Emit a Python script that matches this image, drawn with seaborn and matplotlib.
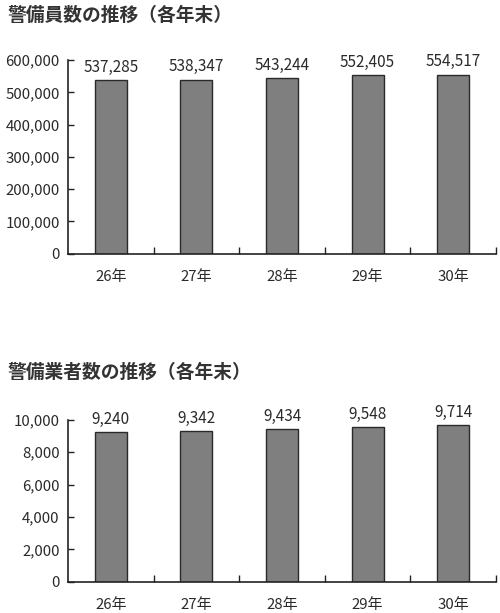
import matplotlib
matplotlib.use("Agg")
import matplotlib.pyplot as plt
import seaborn as sns
import pandas as pd
import numpy as np

sns.set_style("white")
plt.rcParams['font.family'] = ['Noto Sans CJK JP', 'DejaVu Sans']

years = ["26年", "27年", "28年", "29年", "30年"]
guards = [537285, 538347, 543244, 552405, 554517]
companies = [9240, 9342, 9434, 9548, 9714]

BAR = "#7f7f80"
EDGE = "#2a2a2a"

fig = plt.figure(figsize=(5.0, 6.13), dpi=100)
ax1 = fig.add_axes([0.136, 0.586, 0.856, 0.316])
ax2 = fig.add_axes([0.136, 0.051, 0.856, 0.264])


def draw(ax, vals, ymax, step, title, ty):
    df = pd.DataFrame({"year": years, "value": vals})
    sns.barplot(data=df, x="year", y="value", ax=ax, color=BAR,
                width=0.375, edgecolor=EDGE, linewidth=1.0, saturation=1)
    ax.set_xlim(-0.5, 4.5)
    ax.set_ylim(0, ymax)
    ax.set_yticks(np.arange(0, ymax + 1, step))
    ax.set_yticklabels([f"{int(v):,}" for v in np.arange(0, ymax + 1, step)])
    ax.set_xlabel("")
    ax.set_ylabel("")
    for s in ["top", "right"]:
        ax.spines[s].set_visible(False)
    for s in ["left", "bottom"]:
        ax.spines[s].set_color("#222222")
        ax.spines[s].set_linewidth(1.2)
    ax.tick_params(axis="y", direction="in", length=4.5, width=1.0,
                   color="#222222", labelsize=10.8, pad=6, left=True)
    ax.tick_params(axis="x", which="major", length=0, labelsize=10.8, pad=12)
    ax.set_xticks(np.arange(0.5, 5.0, 1.0), minor=True)
    ax.tick_params(axis="x", which="minor", direction="in", length=5,
                   width=1.0, color="#222222", bottom=True)
    for lab in ax.get_xticklabels() + ax.get_yticklabels():
        lab.set_color("#2a2a2a")
    for i, v in enumerate(vals):
        ax.text(i, v + ymax * 0.025, f"{v:,}", ha="center", va="bottom",
                fontsize=11, color="#2a2a2a")
    fig.text(0.016, ty, title, fontsize=13.5, fontweight="bold",
             ha="left", va="center", color="#333333")


draw(ax1, guards, 600000, 100000, "警備員数の推移（各年末）", 0.975)
draw(ax2, companies, 10000, 2000, "警備業者数の推移（各年末）", 0.393)

fig.savefig("out.png", dpi=100)
